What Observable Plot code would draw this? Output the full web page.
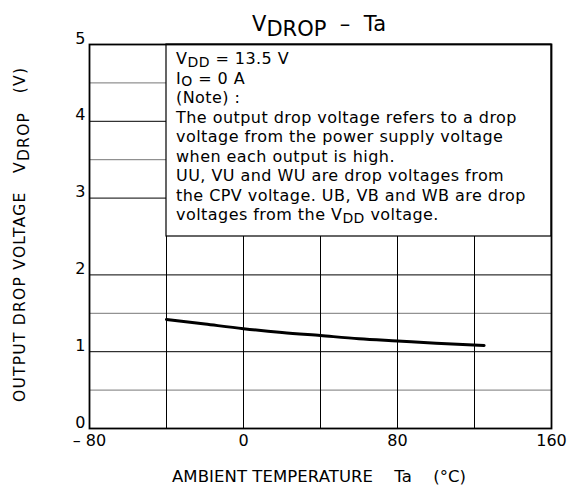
<!DOCTYPE html>
<html>
<head>
<meta charset="utf-8">
<script src="https://cdn.jsdelivr.net/npm/d3@7"></script>
<script src="https://cdn.jsdelivr.net/npm/@observablehq/plot@0.6"></script>
<style>
  html, body { margin: 0; padding: 0; background: #fff; }
  svg { overflow: visible; }
</style>
</head>
<body>
<div id="chart"></div>
<script>
// ---- data ----
const temps = [-40, -20, 0, 20, 40, 60, 80, 100, 125];
const vdrop = [1.42, 1.36, 1.30, 1.25, 1.21, 1.17, 1.14, 1.11, 1.08];
const xTicks = [-80, 0, 80, 160];
const yTicks = [0, 1, 2, 3, 4, 5];
const xGrid = [-40, 0, 40, 80, 120];
const yGridMajor = [1, 2, 3, 4];
const yGridMinor = [0.5, 1.5, 3.5, 4.5];
const noteBox = {x1: -40, x2: 160, y1: 2.5, y2: 5};
// note lines: each is a list of [text, isSubscript]
const noteLines = [
  [["V", 0], ["DD", 1], [" = 13.5 V", 0]],
  [["I", 0], ["O", 1], [" = 0 A", 0]],
  [["(Note) :", 0]],
  [["The output drop voltage refers to a drop", 0]],
  [["voltage from the power supply voltage", 0]],
  [["when each output is high.", 0]],
  [["UU, VU and WU are drop voltages from", 0]],
  [["the CPV voltage. UB, VB and WB are drop", 0]],
  [["voltages from the V", 0], ["DD", 1], [" voltage.", 0]]
];
const titleParts = [["V", 0], ["DROP", 1], ["  –  Ta", 0]];
const yLabelParts = [["OUTPUT DROP VOLTAGE   V", 0], ["DROP", 1], ["   (V)", 0]];
const xLabelText = "AMBIENT TEMPERATURE    Ta    (°C)";

const data = temps.map((t, i) => ({t, v: vdrop[i]}));
const FONT = "'DejaVu Sans', sans-serif";

const W = 567, H = 493;
const mL = 89, mR = 16, mT = 44, mB = 65;

const plot = Plot.plot({
  width: W,
  height: H,
  marginLeft: mL,
  marginRight: mR,
  marginTop: mT,
  marginBottom: mB,
  style: {fontFamily: FONT, fontSize: "14px", color: "#000", background: "#fff"},
  x: {domain: [-80, 160], label: null},
  y: {domain: [0, 5], label: null},
  marks: [
    Plot.ruleY(yGridMinor, {stroke: "#777", strokeWidth: 1}),
    Plot.ruleY(yGridMajor, {stroke: "#000", strokeWidth: 1}),
    Plot.ruleX(xGrid, {stroke: "#000", strokeWidth: 1}),
    Plot.rect([noteBox], {x1: "x1", x2: "x2", y1: "y1", y2: "y2", fill: "#fff", stroke: "#000", strokeWidth: 1.2}),
    Plot.line(data, {x: "t", y: "v", stroke: "#000", strokeWidth: 3, curve: "monotone-x"}),
    Plot.frame({stroke: "#000", strokeWidth: 1.8}),
    Plot.axisX(xTicks, {tickSize: 0, tickPadding: 6, fontSize: 16, tickFormat: d => d < 0 ? "– " + Math.abs(d) : String(d)}),
    Plot.axisY(yTicks, {tickSize: 0, tickPadding: 4, fontSize: 16, dy: -6, tickFormat: d3.format("d")})
  ]
});

document.getElementById("chart").appendChild(plot);

const svg = d3.select(plot);

function rich(sel, parts, subShift, subSize) {
  let shifted = false;
  parts.forEach(([txt, sub]) => {
    const ts = sel.append("tspan").text(txt).style("white-space", "pre");
    if (sub && !shifted) { ts.attr("dy", subShift); shifted = true; }
    else if (!sub && shifted) { ts.attr("dy", -subShift); shifted = false; }
    if (sub && subSize) ts.attr("font-size", subSize);
  });
}

const xs = d3.scaleLinear().domain([-80, 160]).range([mL, W - mR]);

// note text
const g = svg.append("g").attr("font-family", FONT).attr("font-size", 16).attr("fill", "#000")
  .style("letter-spacing", "0.45px");
noteLines.forEach((parts, i) => {
  const t = g.append("text")
    .attr("x", xs(noteBox.x1) + 10)
    .attr("y", 64 + i * 19.5)
    .attr("text-anchor", "start")
    .style("white-space", "pre");
  rich(t, parts, 2.5, 14);
});

// title
const title = svg.append("text")
  .attr("x", 252).attr("y", 31)
  .attr("text-anchor", "start")
  .attr("font-family", FONT).attr("font-size", 21)
  .attr("textLength", 134).attr("lengthAdjust", "spacing")
  .style("white-space", "pre");
rich(title, titleParts, 5);

// y label
const yl = svg.append("text")
  .attr("transform", `translate(25, 402) rotate(-90)`)
  .attr("text-anchor", "start")
  .attr("font-family", FONT).attr("font-size", 15.5)
  .attr("textLength", 334).attr("lengthAdjust", "spacing")
  .style("white-space", "pre");
rich(yl, yLabelParts, 4);

// x label
svg.append("text")
  .attr("x", 172).attr("y", 482)
  .attr("text-anchor", "start")
  .attr("font-family", FONT).attr("font-size", 16.5)
  .attr("textLength", 294).attr("lengthAdjust", "spacing")
  .style("white-space", "pre")
  .text(xLabelText);
</script>
</body>
</html>
